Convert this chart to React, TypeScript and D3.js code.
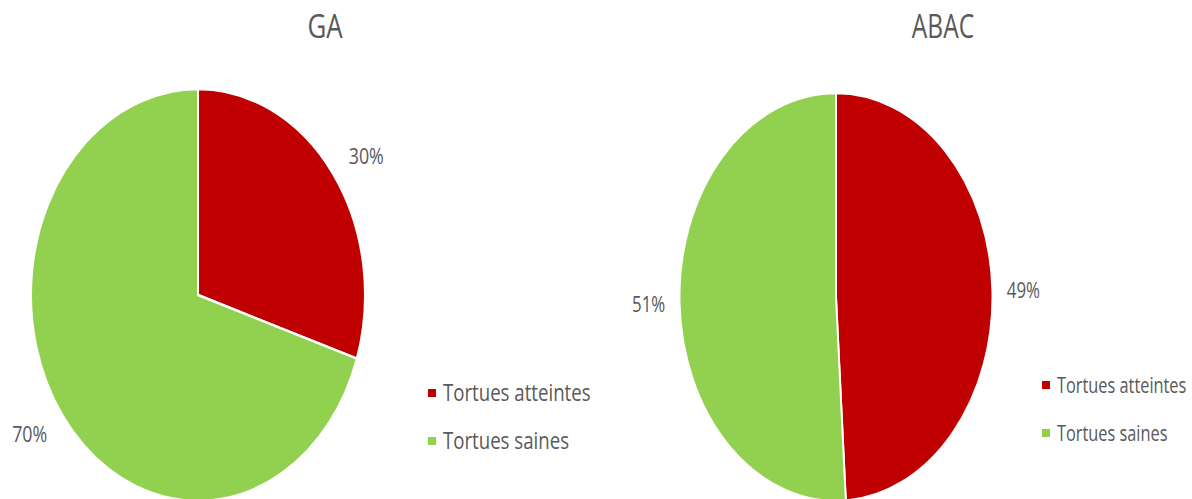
import React from "react";
import * as d3 from "d3";

const categories = ["Tortues atteintes", "Tortues saines"];
const titles = ["GA", "ABAC"];
const gaValues = [30, 70];
const abacValues = [49, 51];
const colors = ["#C00000", "#92D050"];

const W = 1192;
const H = 499;
const FONT = "'Open Sans', 'Liberation Sans', sans-serif";
const TEXT = "#595959";

const layout = [
  { cx: 198, cy: 295, rx: 167, ry: 206, titleX: 325, legendX: 428, legendY: 393, legendFont: 23, labelOffX: 41 },
  { cx: 836, cy: 297, rx: 156.5, ry: 204, titleX: 943, legendX: 1042, legendY: 385, legendFont: 21.3, labelOffX: 31 },
];

function PieChart({ values, title, L }: { values: number[]; title: string; L: any }) {
  const sx = L.rx / L.ry;
  const pie = d3.pie<number>().sort(null).value((d) => d);
  const arcs = pie(values);
  const arc = d3.arc<d3.PieArcDatum<number>>().innerRadius(0).outerRadius(L.ry);
  const edgeArc = d3.arc<d3.PieArcDatum<number>>().innerRadius(L.ry).outerRadius(L.ry);
  const total = d3.sum(values);
  const fmt = d3.format(".0%");
  return (
    <g>
      <g transform={`translate(${L.titleX},38) scale(${sx},1)`}>
        <text textAnchor="middle" fontFamily={FONT} fontSize={32} fill={TEXT}>
          {title}
        </text>
      </g>
      <g transform={`translate(${L.cx},${L.cy}) scale(${sx},1)`}>
        {arcs.map((a, i) => (
          <path key={i} d={arc(a) || ""} fill={colors[i]} stroke="#fff" strokeWidth={2.5} />
        ))}
      </g>
      {arcs.map((a, i) => {
        const [x, y] = edgeArc.centroid(a);
        const mid = (a.startAngle + a.endAngle) / 2;
        const lx = L.cx + x * sx + L.labelOffX * Math.sin(mid);
        const ly = L.cy + y - 30 * Math.cos(mid) + 8;
        return (
          <g key={i} transform={`translate(${lx},${ly}) scale(${sx},1)`}>
            <text textAnchor="middle" fontFamily={FONT} fontSize={22} fill={TEXT}>
              {fmt(a.data / total)}
            </text>
          </g>
        );
      })}
      {categories.map((c, i) => (
        <g key={c} transform={`translate(${L.legendX},${L.legendY + i * 48})`}>
          <rect x={0} y={-4} width={8} height={8} fill={colors[i]} />
          <g transform={`translate(${15},7.5) scale(${sx},1)`}>
            <text fontFamily={FONT} fontSize={L.legendFont} fill={TEXT}>
              {c}
            </text>
          </g>
        </g>
      ))}
    </g>
  );
}

export default function App() {
  return (
    <div style={{ position: "fixed", left: 0, top: 0 }}>
      <svg width={W} height={H} style={{ display: "block", background: "#fff" }}>
        <PieChart values={gaValues} title={titles[0]} L={layout[0]} />
        <PieChart values={abacValues} title={titles[1]} L={layout[1]} />
      </svg>
    </div>
  );
}
